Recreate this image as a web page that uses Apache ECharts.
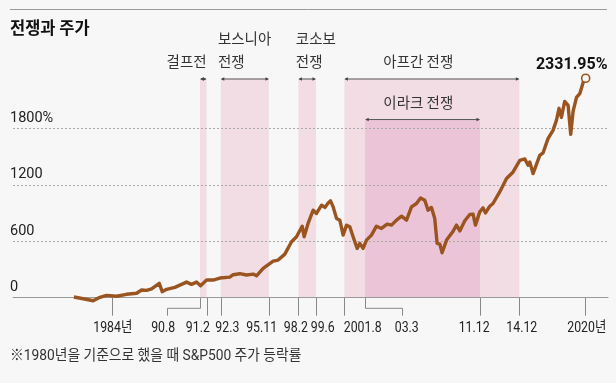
<!DOCTYPE html>
<html><head><meta charset="utf-8">
<script src="https://cdn.jsdelivr.net/npm/echarts@6/dist/echarts.min.js"></script>
<style>html,body{margin:0;padding:0;background:#f7f7f7}#c{width:616px;height:383px}</style>
</head><body><div id="c"></div>
<script>
// ---- data ----
const years = [1981.06,1981.77,1982.53,1983.04,1983.55,1984.31,1985.07,1985.84,1986.22,1986.60,
1986.98,1987.56,1987.79,1988.12,1988.75,1989.64,1990.02,1990.40,1990.71,1991.17,
1991.67,1992.18,1992.94,1993.19,1993.70,1994.21,1994.72,1994.97,1995.48,1996.24,
1996.62,1997.13,1997.26,1997.64,1998.02,1998.45,1998.60,1998.90,1999.29,1999.54,
1999.93,2000.18,2000.43,2000.61,2000.81,2001.07,2001.32,2001.57,2001.83,2002.08,
2002.33,2002.64,2002.84,2003.09,2003.35,2003.73,2004.11,2004.49,2004.92,2005.26,
2005.64,2006.02,2006.40,2006.78,2007.16,2007.47,2007.79,2008.04,2008.30,2008.55,
2008.73,2008.94,2009.11,2009.45,2009.95,2010.21,2010.46,2010.84,2011.22,2011.47,
2011.65,2011.98,2012.23,2012.42,2012.74,2012.99,2013.50,2014.02,2014.52,2015.03,
2015.41,2015.66,2015.79,2016.04,2016.55,2016.80,2017.18,2017.56,2017.82,2018.02,
2018.20,2018.45,2018.71,2018.91,2019.09,2019.35,2019.60,2019.73,2019.90,2020.05];
const values = [7,-11,-32,4,25,15,36,47,82,78,
95,153,64,89,110,166,142,166,127,188,
188,209,219,244,255,241,251,233,312,389,
400,463,445,594,647,760,647,789,930,895,
983,959,1007,1029,965,842,824,665,771,753,
647,524,577,524,612,665,760,736,782,771,
824,866,824,965,1001,1060,1036,930,959,842,
577,569,477,612,707,771,710,817,884,888,
771,912,954,901,972,1001,1124,1266,1336,1460,
1474,1407,1442,1319,1513,1538,1690,1778,1884,2012,
1916,2086,2043,1736,1980,2128,2168,2181,2309,2331.95];

// war periods
const bandNames  = ['걸프전','보스니아\n전쟁','코소보\n전쟁','아프간 전쟁','이라크 전쟁'];
const bandStarts = [1990.667, 1992.25, 1998.167, 2001.667, 2003.25];
const bandEnds   = [1991.167, 1995.917, 1999.5, 2015.0, 2012.0];
const bandTops   = [2324, 2324, 2324, 2324, 1893];
const bandLabelAt = [1991.167, 1992.03, 1997.97, 2007.3, 2007.3];
const bandLabelAlign = ['right','left','left','center','center'];
const bandColors = ['#f2dde5','#f2dde5','#f2dde5','#f2dde5','#ebc5d7'];

// x ticks / labels
const tickDates  = [1984, 1990.667, 1991.167, 1992.25, 1995.917, 1998.167, 1999.5, 2001.667, 2003.25, 2012.0, 2015.0, 2020];
const tickLabels = ['1984년','90.8','91.2','92.3','95.11','98.2','99.6','2001.8','03.3','11.12','14.12','2020년'];
const labelPos   = [1984.02, 1987.86, 1990.50, 1992.75, 1995.36, 1997.97, 2000.02, 2003.06, 2006.42, 2011.55, 2015.18, 2020.13];
const elbowTo    = {1: 1988.17, 8: 2006.09};

const yTicks = [0, 600, 1200, 1800];

const NUM = 'Roboto,"Noto Sans CJK KR",sans-serif';
const KR = '"Noto Sans CJK KR","Noto Sans",sans-serif';
const LINE = '#9a5420';

const chart = echarts.init(document.getElementById('c'), null, {renderer:'canvas'});

const lineData = years.map((y, i) => [y, values[i]]);
const last = lineData.length - 1;
lineData[last] = {
  value: lineData[last],
  symbol: 'circle', symbolSize: 8,
  itemStyle: {color: '#f7f7f7', borderColor: LINE, borderWidth: 1.6},
  label: {show: true, position: 'top', distance: 0, offset: [-14, 0],
    formatter: p => p.value[1].toFixed(2) + '%',
    fontFamily: 'Roboto', fontWeight: 'bold', fontSize: 16, color: '#111'}
};

chart.setOption({
  animation: false,
  backgroundColor: '#f7f7f7',
  grid: {left: 13, right: 8, top: 128.3, bottom: 85.3},
  xAxis: {
    type: 'value', min: 1976.42, max: 2021.75, z: 3,
    axisLine: {show: true, onZero: false, lineStyle: {color: '#999', width: 1}},
    axisTick: {show: false},
    splitLine: {show: false},
    axisLabel: {show: false}
  },
  yAxis: {
    type: 'value', min: 0, max: 1800, interval: 600, z: 3,
    axisLine: {show: false}, axisTick: {show: false},
    splitLine: {show: true, lineStyle: {color: '#aaa', type: [2, 2], width: 1}},
    axisLabel: {
      inside: true, margin: -3, align: 'left', verticalAlign: 'bottom', padding: [0, 0, 3, 0],
      fontFamily: NUM, fontSize: 14.5, color: '#222',
      formatter: v => v === 1800 ? '1800%' : String(v)
    }
  },
  graphic: [
    {type: 'line', shape: {x1: 10, y1: 9.5, x2: 607, y2: 9.5}, style: {stroke: '#999', lineWidth: 1}},
    {type: 'text', x: 10, y: 28, style: {text: '전쟁과 주가', font: 'bold 16.5px ' + KR, fill: '#111', verticalAlign: 'middle'}},
    {type: 'text', x: 10, y: 356, scaleX: 0.95, style: {text: '※1980년을 기준으로 했을 때 S&P500 주가 등락률', font: '14.5px ' + NUM, fill: '#333', verticalAlign: 'middle'}}
  ],
  series: [
    {
      type: 'custom', z: 1, clip: false, silent: true,
      data: bandStarts.map((s, i) => [s, bandEnds[i], bandTops[i], i]),
      renderItem: (params, api) => {
        const i = api.value(3);
        const p0 = api.coord([api.value(0), api.value(2)]);
        const p1 = api.coord([api.value(1), 0]);
        const la = api.coord([bandLabelAt[i], 0]);
        const y = p0[1];
        const x0 = p0[0], x1 = p1[0];
        return {
          type: 'group',
          children: [
            {type: 'rect', shape: {x: x0, y: y, width: x1 - x0, height: p1[1] - y}, style: {fill: bandColors[i]}},
            {type: 'line', shape: {x1: x0 + 1, y1: y, x2: x1 - 1, y2: y}, style: {stroke: '#555', lineWidth: 1}},
            {type: 'polygon', shape: {points: [[x0, y], [x0 + 3.5, y - 1.8], [x0 + 3.5, y + 1.8]]}, style: {fill: '#444'}},
            {type: 'polygon', shape: {points: [[x1, y], [x1 - 3.5, y - 1.8], [x1 - 3.5, y + 1.8]]}, style: {fill: '#444'}},
            {type: 'text', x: la[0], y: y - 6, style: {text: bandNames[i], font: '14.5px ' + KR, fill: '#333',
              align: bandLabelAlign[i], verticalAlign: 'bottom', lineHeight: 23}}
          ]
        };
      }
    },
    {
      type: 'custom', z: 2, clip: false, silent: true,
      data: tickDates.map((d, i) => [d, i, labelPos[i]]),
      renderItem: (params, api) => {
        const i = api.value(1);
        const b = api.coord([api.value(0), 0]);
        const lp = api.coord([api.value(2), 0]);
        const x = Math.round(b[0]) + 0.5, by = b[1];
        let pts;
        if (elbowTo[i] !== undefined) {
          const ex = Math.round(api.coord([elbowTo[i], 0])[0]) + 0.5;
          pts = [[x, by], [x, by + 10.6], [ex, by + 10.6], [ex, by + 18]];
        } else {
          pts = [[x, by], [x, by + 18]];
        }
        return {
          type: 'group',
          children: [
            {type: 'polyline', shape: {points: pts}, style: {stroke: '#888', lineWidth: 1, fill: null}},
            {type: 'text', x: lp[0], y: by + 31, scaleX: 0.82,
              style: {text: tickLabels[i], font: '15px ' + NUM, fill: '#222', align: 'center', verticalAlign: 'middle'}}
          ]
        };
      }
    },
    {
      type: 'line', z: 5, clip: false,
      data: lineData,
      symbol: 'none', showSymbol: true, showAllSymbol: true,
      lineStyle: {color: LINE, width: 3.4, join: 'round'},
      itemStyle: {color: LINE}
    }
  ]
});
</script>
</body></html>
